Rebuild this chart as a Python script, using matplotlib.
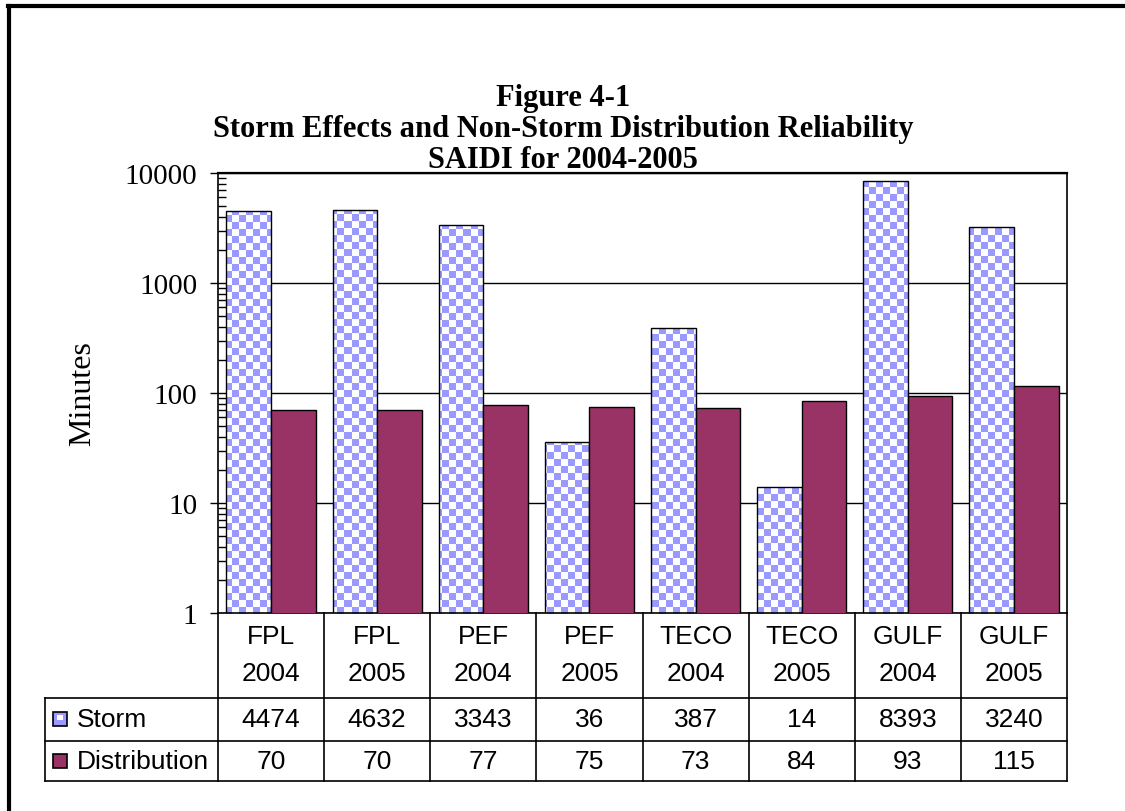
import numpy as np
import matplotlib
matplotlib.use("Agg")
from matplotlib import pyplot as plt
from matplotlib.colors import ListedColormap
from matplotlib.lines import Line2D
from matplotlib.patches import Rectangle
import matplotlib.transforms as mtransforms
from matplotlib.ticker import LogLocator, FixedLocator, NullFormatter

CATEGORIES = ['FPL\n2004', 'FPL\n2005', 'PEF\n2004', 'PEF\n2005',
              'TECO\n2004', 'TECO\n2005', 'GULF\n2004', 'GULF\n2005']
STORM = [4474, 4632, 3343, 36, 387, 14, 8393, 3240]
DISTRIBUTION = [70, 70, 77, 75, 73, 84, 93, 115]
SERIES = ['Storm', 'Distribution']
TITLE = ['Figure 4-1',
         'Storm Effects and Non-Storm Distribution Reliability',
         'SAIDI for 2004-2005']

W, H = 1125, 812
BLUE = '#9999FF'
PLUM = '#993366'
SERIF = 'Liberation Serif'
SANS = 'Liberation Sans'
TFS = 19  # table font size

fig = plt.figure(figsize=(W / 100, H / 100), dpi=100)

# axes box in pixels (from the picture)
L, R, T, B = 218, 1067, 174, 614
ax = fig.add_axes([L / W, 1 - B / H, (R - L) / W, (B - T) / H])


def fx(x):
    return x / W


def fy(y):
    return 1 - y / H


def ay(y):
    # pixel row -> axes fraction
    return (B - y) / (B - T)


n = len(CATEGORIES)
x = np.arange(n)
bw = 0.42

storm_bars = ax.bar(x - bw / 2, STORM, bw, color='none', edgecolor='black',
                    linewidth=1.0, zorder=3)
dist_bars = ax.bar(x + bw / 2, DISTRIBUTION, bw, color=PLUM, edgecolor='black',
                   linewidth=1.0, zorder=3)

# checker fill for the storm bars
sq = 7
nx = int(np.ceil((R - L) / sq))
ny = int(np.ceil((B - T) / sq))
checker = (np.indices((ny, nx)).sum(axis=0) % 2).astype(float)
cmap = ListedColormap(['white', BLUE])
for bar in storm_bars:
    im = ax.imshow(checker, cmap=cmap, interpolation='nearest', aspect='auto',
                   extent=[0, nx * sq / (R - L), 1 - ny * sq / (B - T), 1],
                   transform=ax.transAxes, zorder=2.5)
    im.set_clip_path(bar)

ax.set_xlim(-0.5, n - 0.5)
ax.set_yscale('log')
ax.set_ylim(1, 10000)

ax.yaxis.set_major_locator(FixedLocator([1, 10, 100, 1000, 10000]))
ax.yaxis.set_minor_locator(LogLocator(base=10, subs=np.arange(2, 10)))
ax.yaxis.set_minor_formatter(NullFormatter())
ax.set_yticklabels(['1', '10', '100', '1000', '10000'])
ax.tick_params(axis='y', which='major', direction='out', length=6, width=1,
               pad=9, labelsize=21)
ax.tick_params(axis='y', which='minor', direction='in', length=6, width=1)
for lab in ax.get_yticklabels():
    lab.set_fontfamily(SERIF)
ax.set_xticks([])
ax.yaxis.grid(True, which='major', color='black', linewidth=1)
ax.set_axisbelow(True)
for s in ['left', 'right', 'bottom']:
    ax.spines[s].set_linewidth(1.2)
ax.spines['top'].set_linewidth(1.6)

ax.set_ylabel('Minutes', fontsize=23, fontfamily=SERIF, labelpad=20)

# title, one line at a time on fixed baselines
for txt, yy in zip(TITLE, [106, 137, 168]):
    fig.text(fx(563), fy(yy), txt, ha='center', va='baseline', fontsize=22,
             fontweight='bold', fontfamily=SERIF)

# data table under the axes
blend = mtransforms.blended_transform_factory(ax.transData, ax.transAxes)
tl = (45 - L) / (R - L)
rows_y = [699, 742, 782]
for yy in rows_y:
    ax.add_line(Line2D([tl, 1], [ay(yy), ay(yy)], color='black', lw=1.2,
                       transform=ax.transAxes, clip_on=False))
ax.add_line(Line2D([tl, tl], [ay(699), ay(782)], color='black', lw=1.2,
                   transform=ax.transAxes, clip_on=False))
for i in range(n + 1):
    ax.add_line(Line2D([i - 0.5, i - 0.5], [0, ay(782)], color='black', lw=1.2,
                       transform=blend, clip_on=False))

for i, cat in enumerate(CATEGORIES):
    top, bot = cat.split('\n')
    ax.text(i, ay(637), top, transform=blend, ha='center', va='center',
            fontsize=TFS, fontfamily=SANS, clip_on=False)
    ax.text(i, ay(674), bot, transform=blend, ha='center', va='center',
            fontsize=TFS, fontfamily=SANS, clip_on=False)
    ax.text(i, ay(720), str(STORM[i]), transform=blend, ha='center',
            va='center', fontsize=TFS, fontfamily=SANS, clip_on=False)
    ax.text(i, ay(762), str(DISTRIBUTION[i]), transform=blend, ha='center',
            va='center', fontsize=TFS, fontfamily=SANS, clip_on=False)

# row labels with legend keys
for name, yy in zip(SERIES, [720, 762]):
    fig.text(fx(77), fy(yy), name, ha='left', va='center', fontsize=TFS,
             fontfamily=SANS)
key_s = Rectangle((fx(53), fy(727)), 14 / W, 14 / H, transform=fig.transFigure,
                  facecolor=BLUE, edgecolor='black', lw=1.2)
key_s_in = Rectangle((fx(57), fy(721)), 6 / W, 5 / H, transform=fig.transFigure,
                     facecolor='white', edgecolor='none')
key_d = Rectangle((fx(53), fy(769)), 14 / W, 14 / H, transform=fig.transFigure,
                  facecolor=PLUM, edgecolor='black', lw=1.2)
fig.add_artist(key_s)
fig.add_artist(key_s_in)
fig.add_artist(key_d)

# outer frame (left and top edges only show)
fig.add_artist(Line2D([fx(9), fx(9)], [fy(7), 0], color='black', lw=3,
                      transform=fig.transFigure))
fig.add_artist(Line2D([fx(7.9), 1], [fy(7), fy(7)], color='black', lw=3,
                      transform=fig.transFigure))

fig.savefig('out.png', dpi=100)
